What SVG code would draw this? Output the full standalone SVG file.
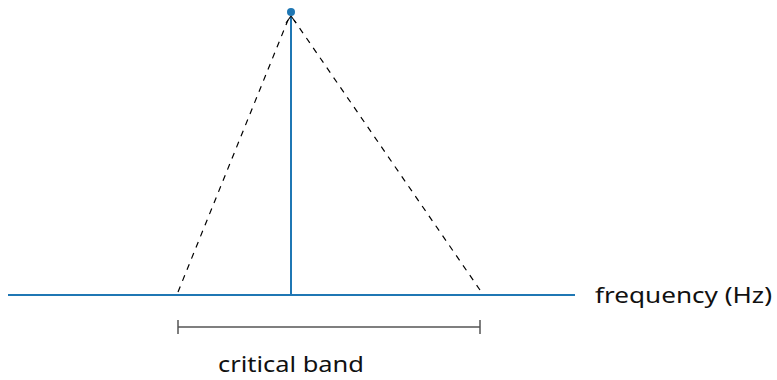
<svg xmlns="http://www.w3.org/2000/svg" width="777" height="380" viewBox="0 0 777 380">
<style>
.ax{stroke:#1f77b4;stroke-width:2;fill:none}
.dash{stroke:#000;stroke-width:1.2;stroke-dasharray:6,6;fill:none}
.br{stroke:#555;stroke-width:1.5;fill:none}
text{font-family:"Noto Sans","DejaVu Sans",sans-serif;font-size:22px;fill:#111}
</style>
<g id="connectors">
<line class="ax" x1="8" y1="295" x2="575" y2="295"/>
<line class="ax" x1="291" y1="295" x2="291" y2="17"/>
<path d="M286,23 L291,16 L296,23" fill="none" stroke="#111" stroke-width="1.2"/>
<line class="dash" x1="178" y1="292" x2="288" y2="20"/>
<line class="dash" x1="480" y1="290" x2="294" y2="20"/>
<line class="br" x1="178" y1="327" x2="480" y2="327"/>
<line class="br" x1="178" y1="320" x2="178" y2="334"/>
<line class="br" x1="480" y1="320" x2="480" y2="334"/>
</g>
<g id="peak"><circle cx="291" cy="12" r="4" fill="#1f77b4"/></g>
<g id="axis-label"><text x="595" y="303" textLength="177" lengthAdjust="spacingAndGlyphs">frequency (Hz)</text></g>
<g id="band-label"><text x="218" y="372" textLength="146" lengthAdjust="spacingAndGlyphs">critical band</text></g>
</svg>
